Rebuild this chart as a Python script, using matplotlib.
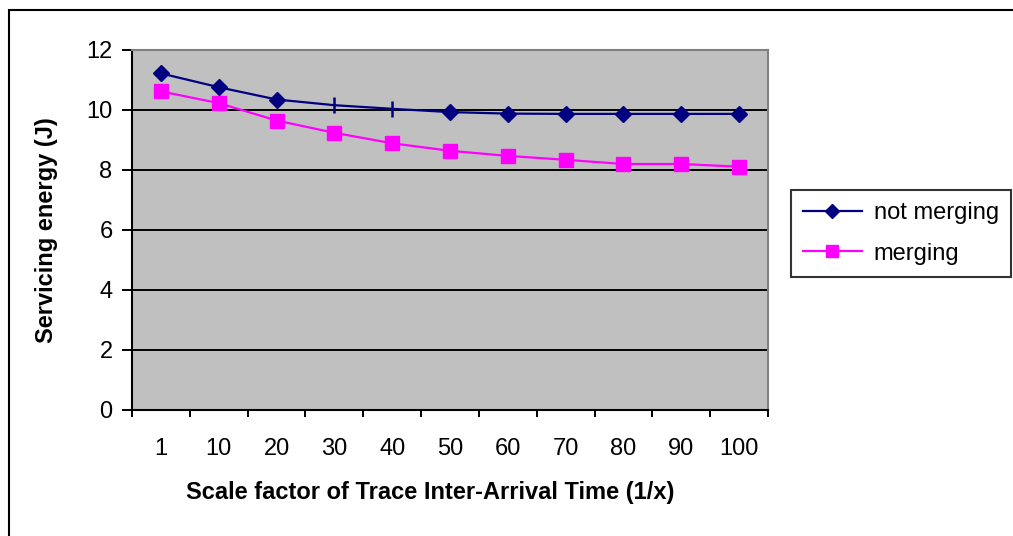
import matplotlib
matplotlib.use("Agg")
import matplotlib.pyplot as plt
from matplotlib.patches import Rectangle
from matplotlib.lines import Line2D

categories = ["1", "10", "20", "30", "40", "50", "60", "70", "80", "90", "100"]
not_merging = [11.22, 10.76, 10.35, 10.16, 10.04, 9.93, 9.88, 9.87, 9.87, 9.87, 9.87]
merging = [10.62, 10.23, 9.65, 9.24, 8.89, 8.64, 8.47, 8.34, 8.20, 8.20, 8.11]
tick_mark_points = [3, 4]  # points of "not merging" drawn with a bar marker

plt.rcParams['font.family'] = ['Liberation Sans', 'DejaVu Sans']

W, H = 1013, 536
FS = 17
fig = plt.figure(figsize=(W / 100, H / 100), dpi=100)

# outer chart border
fig.patches.append(Rectangle((9 / W, -0.05), 1.2, 1 - 10 / H + 0.05, transform=fig.transFigure,
                             fill=False, edgecolor='black', linewidth=1.5, zorder=0))

ax = fig.add_axes([132 / W, 1 - 410 / H, (768 - 132) / W, (410 - 50) / H])
ax.set_facecolor('#C0C0C0')

x = list(range(len(categories)))
diamond_idx = [i for i in x if i not in tick_mark_points]

ax.plot(x, not_merging, color='#000080', linewidth=1.6, marker='D', markersize=8.5,
        markevery=diamond_idx, zorder=4)
ax.plot([x[i] for i in tick_mark_points], [not_merging[i] for i in tick_mark_points],
        linestyle='none', marker='|', markersize=11, markeredgewidth=1.8, color='#000080', zorder=4)
ax.plot(x, merging, color='#FF00FF', linewidth=1.6, marker='s', markersize=10.5, zorder=3)

ax.set_xlim(-0.5, len(categories) - 0.5)
ax.set_ylim(0, 12)
ax.set_yticks(range(0, 13, 2))
ax.yaxis.grid(True, color='black', linewidth=1.4)
ax.set_axisbelow(True)

ax.set_xticks([i - 0.5 for i in range(len(categories) + 1)])
ax.set_xticklabels([])
ax.set_xticks(x, minor=True)
ax.set_xticklabels(categories, minor=True)
ax.tick_params(axis='x', which='major', length=5, width=1.4, color='black', direction='out')
ax.tick_params(axis='x', which='minor', length=0, pad=20, labelsize=FS)
ax.tick_params(axis='y', length=7, width=1.4, direction='out', labelsize=FS, pad=7)

for s in ['top', 'right']:
    ax.spines[s].set_color('#808080')
    ax.spines[s].set_linewidth(1.5)
for s in ['left', 'bottom']:
    ax.spines[s].set_color('black')
    ax.spines[s].set_linewidth(1.5)

fig.text(430 / W, 1 - 492 / H, "Scale factor of Trace Inter-Arrival Time (1/x)",
         ha='center', va='center', fontsize=FS, fontweight='bold')
fig.text(47 / W, 1 - 230 / H, "Servicing energy (J)", rotation=90,
         ha='center', va='center', fontsize=FS, fontweight='bold')

handles = [Line2D([], [], color='#000080', linewidth=1.6, marker='D', markersize=7),
           Line2D([], [], color='#FF00FF', linewidth=1.6, marker='s', markersize=9)]
leg = fig.legend(handles, ["not merging", "merging"], loc='upper left',
                 bbox_to_anchor=(791 / W, 1 - 190 / H), fontsize=FS, frameon=True,
                 fancybox=False, edgecolor='black', borderpad=0.5, handlelength=2.5,
                 labelspacing=0.8, handletextpad=0.5, borderaxespad=0)
leg.get_frame().set_linewidth(1.5)

fig.savefig("out.png", dpi=100)
